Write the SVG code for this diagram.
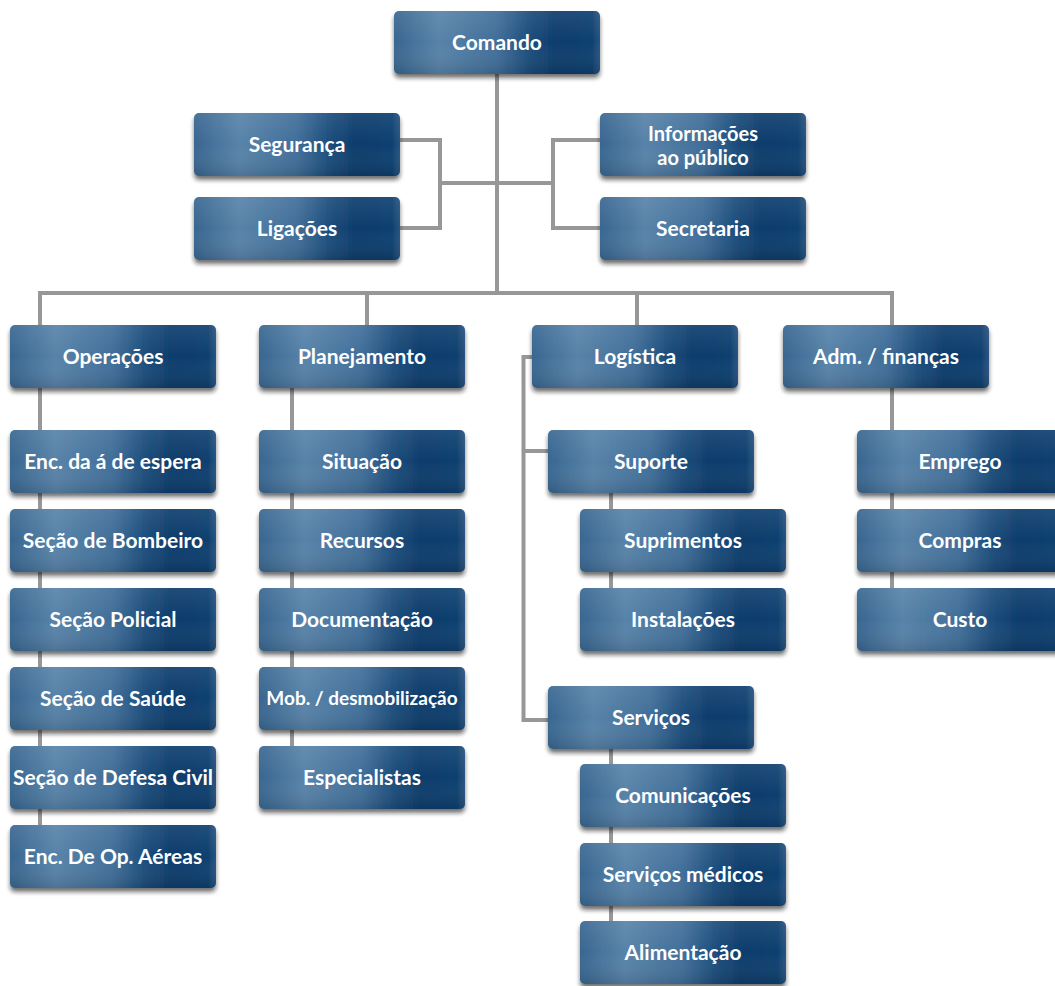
<svg xmlns="http://www.w3.org/2000/svg" width="1055" height="986" viewBox="0 0 1055 986">
<defs>
<linearGradient id="bg" x1="0" y1="0" x2="1" y2="0">
<stop offset="0" stop-color="#386690"/>
<stop offset="0.22" stop-color="#5883a9"/>
<stop offset="0.5" stop-color="#406e99"/>
<stop offset="0.66" stop-color="#1b4c7b"/>
<stop offset="0.78" stop-color="#0e3d6c"/>
<stop offset="0.96" stop-color="#0f3f6f"/>
<stop offset="1" stop-color="#28547f"/>
</linearGradient>
<linearGradient id="vs" x1="0" y1="0" x2="0" y2="1">
<stop offset="0" stop-color="#fff" stop-opacity="0.08"/>
<stop offset="0.5" stop-color="#fff" stop-opacity="0"/>
<stop offset="1" stop-color="#000" stop-opacity="0.12"/>
</linearGradient>
<filter id="sh" x="-5%" y="-10%" width="110%" height="135%">
<feGaussianBlur in="SourceAlpha" stdDeviation="2.2"/>
<feOffset dy="4" result="b"/>
<feFlood flood-color="#1a1a1a" flood-opacity="0.6"/>
<feComposite in2="b" operator="in"/>
<feMerge><feMergeNode/><feMergeNode in="SourceGraphic"/></feMerge>
</filter>
</defs>
<style>
.box{fill:url(#bg);filter:url(#sh)}
.ov{fill:url(#vs)}
.lbl{fill:#fff;font-family:Lato,"Liberation Sans",sans-serif;font-weight:700;font-size:21px;text-anchor:middle}
.sm{font-size:19px}
.two{font-size:20px}
.ln{fill:none;stroke:#979797;stroke-width:4}
</style>
<rect width="1055" height="986" fill="#fff"/>
<g id="connectors" class="ln">
<path d="M497 74 V295"/>
<path d="M400 140 H440 V228 H400 M440 183 H497"/>
<path d="M600 140 H553 V228 H600 M553 183 H497"/>
<path d="M40 325 V293 H892 V325 M367 293 V325 M637 293 V325"/>
<path d="M40 388 V830"/>
<path d="M292 388 V750"/>
<path d="M532 357 H523.5 V720 H548 M523.5 451 H548"/>
<path d="M611 493 V592"/>
<path d="M611 749 V926"/>
<path d="M892 388 V592"/>
</g>
<g id="comando"><rect class="box" x="394" y="11" width="206" height="63" rx="5"/><rect class="ov" x="394" y="11" width="206" height="63" rx="5"/><text class="lbl" x="497" y="50">Comando</text></g>
<g id="seguranca"><rect class="box" x="194" y="113" width="206" height="63" rx="5"/><rect class="ov" x="194" y="113" width="206" height="63" rx="5"/><text class="lbl" x="297" y="152">Segurança</text></g>
<g id="ligacoes"><rect class="box" x="194" y="197" width="206" height="63" rx="5"/><rect class="ov" x="194" y="197" width="206" height="63" rx="5"/><text class="lbl" x="297" y="236">Ligações</text></g>
<g id="informacoes"><rect class="box" x="600" y="113" width="206" height="63" rx="5"/><rect class="ov" x="600" y="113" width="206" height="63" rx="5"/><text class="lbl two" x="703" y="141">Informações</text><text class="lbl two" x="703" y="165">ao público</text></g>
<g id="secretaria"><rect class="box" x="600" y="197" width="206" height="63" rx="5"/><rect class="ov" x="600" y="197" width="206" height="63" rx="5"/><text class="lbl" x="703" y="236">Secretaria</text></g>
<g id="operacoes"><rect class="box" x="10" y="325" width="206" height="63" rx="5"/><rect class="ov" x="10" y="325" width="206" height="63" rx="5"/><text class="lbl" x="113" y="364">Operações</text></g>
<g id="planejamento"><rect class="box" x="259" y="325" width="206" height="63" rx="5"/><rect class="ov" x="259" y="325" width="206" height="63" rx="5"/><text class="lbl" x="362" y="364">Planejamento</text></g>
<g id="logistica"><rect class="box" x="532" y="325" width="206" height="63" rx="5"/><rect class="ov" x="532" y="325" width="206" height="63" rx="5"/><text class="lbl" x="635" y="364">Logística</text></g>
<g id="adm"><rect class="box" x="783" y="325" width="206" height="63" rx="5"/><rect class="ov" x="783" y="325" width="206" height="63" rx="5"/><text class="lbl" x="886" y="364">Adm. / finanças</text></g>
<g id="enc-espera"><rect class="box" x="10" y="430" width="206" height="63" rx="5"/><rect class="ov" x="10" y="430" width="206" height="63" rx="5"/><text class="lbl" x="113" y="469">Enc. da á de espera</text></g>
<g id="bombeiro"><rect class="box" x="10" y="509" width="206" height="63" rx="5"/><rect class="ov" x="10" y="509" width="206" height="63" rx="5"/><text class="lbl" x="113" y="548">Seção de Bombeiro</text></g>
<g id="policial"><rect class="box" x="10" y="588" width="206" height="63" rx="5"/><rect class="ov" x="10" y="588" width="206" height="63" rx="5"/><text class="lbl" x="113" y="627">Seção Policial</text></g>
<g id="saude"><rect class="box" x="10" y="667" width="206" height="63" rx="5"/><rect class="ov" x="10" y="667" width="206" height="63" rx="5"/><text class="lbl" x="113" y="706">Seção de Saúde</text></g>
<g id="defesa"><rect class="box" x="10" y="746" width="206" height="63" rx="5"/><rect class="ov" x="10" y="746" width="206" height="63" rx="5"/><text class="lbl" x="113" y="785">Seção de Defesa Civil</text></g>
<g id="aereas"><rect class="box" x="10" y="825" width="206" height="63" rx="5"/><rect class="ov" x="10" y="825" width="206" height="63" rx="5"/><text class="lbl" x="113" y="864">Enc. De Op. Aéreas</text></g>
<g id="situacao"><rect class="box" x="259" y="430" width="206" height="63" rx="5"/><rect class="ov" x="259" y="430" width="206" height="63" rx="5"/><text class="lbl" x="362" y="469">Situação</text></g>
<g id="recursos"><rect class="box" x="259" y="509" width="206" height="63" rx="5"/><rect class="ov" x="259" y="509" width="206" height="63" rx="5"/><text class="lbl" x="362" y="548">Recursos</text></g>
<g id="documentacao"><rect class="box" x="259" y="588" width="206" height="63" rx="5"/><rect class="ov" x="259" y="588" width="206" height="63" rx="5"/><text class="lbl" x="362" y="627">Documentação</text></g>
<g id="mob"><rect class="box" x="259" y="667" width="206" height="63" rx="5"/><rect class="ov" x="259" y="667" width="206" height="63" rx="5"/><text class="lbl sm" x="362" y="705">Mob. / desmobilização</text></g>
<g id="especialistas"><rect class="box" x="259" y="746" width="206" height="63" rx="5"/><rect class="ov" x="259" y="746" width="206" height="63" rx="5"/><text class="lbl" x="362" y="785">Especialistas</text></g>
<g id="suporte"><rect class="box" x="548" y="430" width="206" height="63" rx="5"/><rect class="ov" x="548" y="430" width="206" height="63" rx="5"/><text class="lbl" x="651" y="469">Suporte</text></g>
<g id="suprimentos"><rect class="box" x="580" y="509" width="206" height="63" rx="5"/><rect class="ov" x="580" y="509" width="206" height="63" rx="5"/><text class="lbl" x="683" y="548">Suprimentos</text></g>
<g id="instalacoes"><rect class="box" x="580" y="588" width="206" height="63" rx="5"/><rect class="ov" x="580" y="588" width="206" height="63" rx="5"/><text class="lbl" x="683" y="627">Instalações</text></g>
<g id="servicos"><rect class="box" x="548" y="686" width="206" height="63" rx="5"/><rect class="ov" x="548" y="686" width="206" height="63" rx="5"/><text class="lbl" x="651" y="725">Serviços</text></g>
<g id="comunicacoes"><rect class="box" x="580" y="764" width="206" height="63" rx="5"/><rect class="ov" x="580" y="764" width="206" height="63" rx="5"/><text class="lbl" x="683" y="803">Comunicações</text></g>
<g id="medicos"><rect class="box" x="580" y="843" width="206" height="63" rx="5"/><rect class="ov" x="580" y="843" width="206" height="63" rx="5"/><text class="lbl" x="683" y="882">Serviços médicos</text></g>
<g id="alimentacao"><rect class="box" x="580" y="921" width="206" height="63" rx="5"/><rect class="ov" x="580" y="921" width="206" height="63" rx="5"/><text class="lbl" x="683" y="960">Alimentação</text></g>
<g id="emprego"><rect class="box" x="857" y="430" width="206" height="63" rx="5"/><rect class="ov" x="857" y="430" width="206" height="63" rx="5"/><text class="lbl" x="960" y="469">Emprego</text></g>
<g id="compras"><rect class="box" x="857" y="509" width="206" height="63" rx="5"/><rect class="ov" x="857" y="509" width="206" height="63" rx="5"/><text class="lbl" x="960" y="548">Compras</text></g>
<g id="custo"><rect class="box" x="857" y="588" width="206" height="63" rx="5"/><rect class="ov" x="857" y="588" width="206" height="63" rx="5"/><text class="lbl" x="960" y="627">Custo</text></g>
</svg>
